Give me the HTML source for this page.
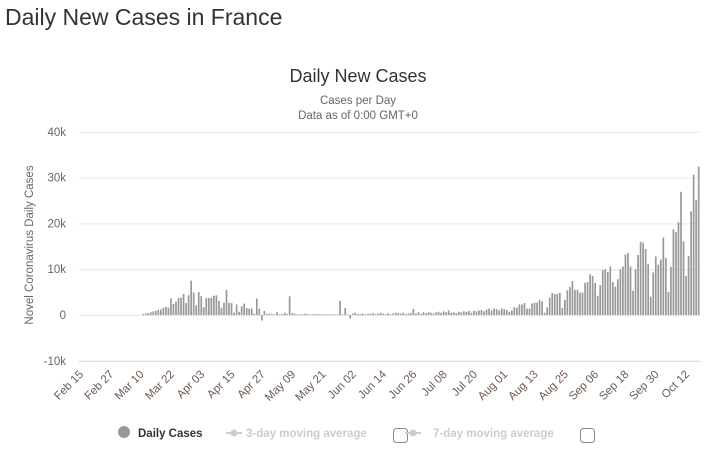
<!DOCTYPE html>
<html><head><meta charset="utf-8"><style>
body{margin:0;background:#fff;width:708px;height:453px;overflow:hidden;font-family:"Liberation Sans",sans-serif}
</style></head><body>
<svg width="708" height="453" xmlns="http://www.w3.org/2000/svg" font-family="Liberation Sans, sans-serif">
<text x="5" y="25" font-size="23" fill="#333">Daily New Cases in France</text>
<text x="358" y="82" font-size="18" fill="#333" text-anchor="middle">Daily New Cases</text>
<text x="358" y="104" font-size="11.5" fill="#666" text-anchor="middle">Cases per Day</text>
<text x="358" y="119" font-size="11.5" fill="#666" text-anchor="middle">Data as of 0:00 GMT+0</text>
<g id="grid" stroke="#e6e6e6" stroke-width="1"></g>
<g id="ylab" font-size="11.5" fill="#666" text-anchor="end"></g>
<text transform="translate(33,245) rotate(-90)" font-size="11.5" fill="#666" text-anchor="middle">Novel Coronavirus Daily Cases</text>
<g id="bars" fill="#999"></g>
<g id="xlab" font-size="11.5" fill="#6e5a52" text-anchor="end"></g>
<circle cx="124" cy="432" r="6" fill="#999"/>
<text x="138" y="437" font-size="11.5" font-weight="bold" fill="#333">Daily Cases</text>
<line x1="226" y1="433" x2="242" y2="433" stroke="#ccc" stroke-width="2"/><circle cx="234" cy="433" r="3.5" fill="#ccc"/>
<text x="246" y="437" font-size="11.5" font-weight="bold" fill="#ccc">3-day moving average</text>
<rect x="393.5" y="428.5" width="14" height="14" rx="3" fill="#fff" stroke="#888"/>
<line x1="405" y1="433" x2="421" y2="433" stroke="#ccc" stroke-width="2"/><circle cx="413" cy="433" r="3.5" fill="#ccc"/>
<text x="433" y="437" font-size="11.5" font-weight="bold" fill="#ccc">7-day moving average</text>
<rect x="580.5" y="428.5" width="14" height="14" rx="3" fill="#fff" stroke="#888"/>
</svg>
<script>
var NS="http://www.w3.org/2000/svg";
function el(t,a,p,txt){var e=document.createElementNS(NS,t);for(var k in a)e.setAttribute(k,a[k]);if(txt)e.textContent=txt;document.getElementById(p).appendChild(e);return e;}
var y0=315,ppk=4.58;
[40,30,20,10,0,-10].forEach(function(v){var y=y0-v*ppk;el('line',{x1:79,x2:700,y1:y+0.5,y2:y+0.5,stroke:v==-10?'#ccd6eb':'#e6e6e6'},'grid');el('text',{x:66,y:y+4},'ylab',v==0?'0':v+'k');});
var d=[];
d=d.concat([0.2,0.3,0.4,0.6,0.8,0.9,1.1,1.2,1.6,1.8]);
d=d.concat([1.6,3.6,2.4,2.9,3.7,3.8,4.6,2.6,4.3,7.5,4.9]);
d=d.concat([2.1,5.0,4.1,1.7,3.7,3.7,3.8,4.2,4.3,3.1,1.6,2.7,5.5,2.7,2.6]);
d=d.concat([0.5,2.3,0.7,1.9,2.5,1.5,1.4,1.4,0.3,3.6,1.4,-1.2,0.9,0.2,0.3]);
d=d.concat([0.2,0.1,0.6,0.1,0.2,0.5,0.2,4.1,0.4,0.3,0.1,0.1,0.2,0.3,0.2]);
d=d.concat([0.1,0,0.2,0.2,0.2,0,0.1,0,0,0,0,0.1,3.1,0.1,1.5,0]);
d=d.concat([-0.8,0.3,0.5,0.2,0.2,0.3,0.1,0.2,0.3,0.4,0.2,0.3,0.5,0.3,0.2,0.4,0.1,0.3,0.5,0.4,0.3,0.5,0.2,0.3,0.4,1.3,0.3,0.6,0.2,0.6]);
d=d.concat([0.4,0.6,0.5,0.3,0.6,0.7,0.5,0.8,0.6,1.0,0.5,0.6,0.4,0.7,0.6,0.8,0.7,0.9,0.5,0.9,0.8,1.0,1.1,0.8,1.2,1.4,1.0,1.4,1.3,1.0,1.4]);
d=d.concat([1.3,1.1,0.7,1.0,1.7,1.6,2.3,2.3,2.6,1.4,1.4,2.5,2.7,2.7,3.3,3.0,0.5,1.7,3.8,4.8,4.6,4.6,4.9,1.5,3.3,5.4,6.1,7.4,5.5,5.5,4.9]);
d=d.concat([4.9,7.0,7.2,8.9,8.5,7.0,4.2,6.5,9.8,10.0,9.4,10.6,7.2,6.2,7.8,10.0,10.6,13.2,13.5,10.6,5.3,10.0,13.1,16.0,15.8,14.4,11.1,4.0,9.3,12.8]);
d=d.concat([11.0,12.1,16.9,12.5,5.0,10.5,18.7,18.1,20.3,26.9,16.1,8.5,12.9,22.6,30.6,25.1,32.4]);
var start=25;
d.forEach(function(v,i){var x=80+(start+i)*2.525-0.8;var h=Math.abs(v)*ppk;if(h<0.6)h=0.6;var y=v>=0?y0-h:y0;el('rect',{x:x.toFixed(2),y:y.toFixed(2),width:1.7,height:h.toFixed(2)},'bars');});
var names=['Feb 15','Feb 27','Mar 10','Mar 22','Apr 03','Apr 15','Apr 27','May 09','May 21','Jun 02','Jun 14','Jun 26','Jul 08','Jul 20','Aug 01','Aug 13','Aug 25','Sep 06','Sep 18','Sep 30','Oct 12'];
names.forEach(function(n,k){var x=80+k*12*2.525+4;el('text',{transform:'translate('+x+',375) rotate(-45)'},'xlab',n);});
</script>
</body></html>
